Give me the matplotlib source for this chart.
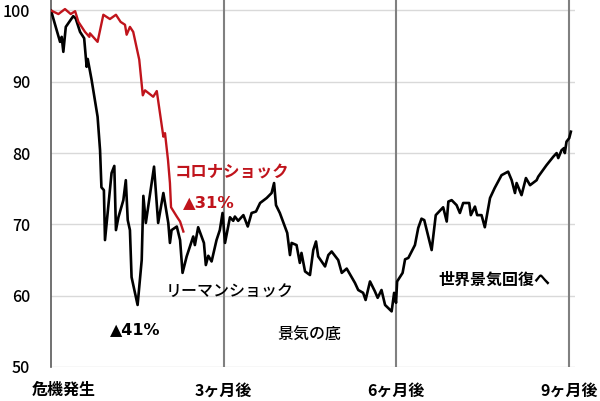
import matplotlib
matplotlib.use("Agg")
import matplotlib.pyplot as plt
import matplotlib.transforms as mtransforms

plt.rcParams['font.family'] = ['Noto Sans CJK JP', 'DejaVu Sans']

# trading days since the crisis started (3 months ~ 63 days)
lehman_days = [0, 3.3, 3.9, 4.5, 5.4, 8.1, 9.0, 10.6, 12.1, 13.0, 13.4, 14.8, 17.0, 17.9,
               18.4, 19.3, 19.7, 22.1, 23.1, 23.7, 24.6, 26.4, 27.3, 28.0, 28.8, 29.4,
               31.6, 33.1, 33.7, 34.6, 37.6, 39.1, 41.0, 42.8, 43.4, 44.0, 45.9, 47.1,
               48.0, 49.5, 51.9, 52.5, 53.7, 55.8, 56.5, 57.4, 58.6, 60.4, 61.6, 62.6,
               63.5, 65.3, 66.5, 67.1, 68.3, 70.2, 71.8, 73.2, 74.8, 76.3, 78.7, 80.5,
               81.4, 82.1, 83.5, 86.2, 87.2, 87.8, 89.6, 90.8, 91.4, 92.7, 94.5, 95.7,
               96.7, 97.5, 100.0, 101.2, 102.4, 104.8, 106.1, 107.9, 110.9, 112.1, 113.9,
               114.8, 116.4, 118.2, 119.2, 120.6, 121.9, 124.3, 125.2, 125.9, 126.3,
               128.3, 129.2, 130.4, 132.8, 134.0, 135.2, 136.2, 138.9, 140.4, 143.1,
               144.4, 145.0, 146.2, 148.0, 149.2, 150.4, 152.6, 153.2, 154.7, 155.5,
               157.1, 158.3, 160.2, 161.9, 164.4, 166.8, 168.1, 169.3, 169.9, 171.7,
               173.3, 174.8, 177.2, 177.8, 180.8, 183.3, 184.5, 185.1, 186.3, 187.2,
               187.5, 188.1, 189.1, 189.7]
lehman_vals = [100, 95.6, 96.3, 94.2, 97.7, 99.2, 98.9, 97.0, 96.1, 92.1, 93.2, 90.3, 85.1,
               80.4, 75.2, 74.8, 67.8, 77.2, 78.2, 69.2, 71.0, 73.4, 76.2, 70.6, 69.2,
               62.6, 58.7, 65.0, 74.0, 70.2, 78.1, 70.2, 74.4, 70.2, 67.4, 69.2, 69.7,
               67.8, 63.2, 65.5, 68.3, 67.1, 69.6, 67.4, 64.3, 65.6, 64.8, 67.8, 69.2,
               71.6, 67.4, 71.0, 70.5, 71.1, 70.5, 71.3, 69.7, 71.6, 71.8, 73.0, 73.7,
               74.4, 75.8, 72.7, 71.6, 68.8, 65.7, 67.4, 67.1, 64.6, 66.0, 63.4, 62.9,
               66.4, 67.6, 65.5, 64.1, 65.7, 66.2, 65.0, 63.2, 63.8, 61.8, 60.8, 60.4,
               59.4, 62.0, 60.6, 59.7, 60.8, 58.7, 57.8, 60.4, 59.0, 62.0, 63.2, 65.1,
               65.3, 67.1, 69.5, 70.8, 70.6, 66.4, 71.3, 72.4, 70.4, 73.2, 73.4, 72.7,
               71.6, 73.0, 73.0, 71.3, 72.5, 71.3, 71.3, 69.6, 73.7, 75.1, 76.9, 77.4,
               76.2, 74.4, 75.8, 74.1, 76.5, 75.5, 76.2, 76.7, 78.3, 79.5, 80.0, 79.3,
               80.4, 80.7, 80.0, 81.6, 82.1, 83.0]

corona_days = [0, 2.7, 5.1, 7.2, 8.8, 10.0, 12.4, 14.0, 14.2, 17.0, 19.1, 21.5, 23.7, 25.4,
               27.0, 27.6, 28.8, 30.0, 32.2, 33.5, 34.3, 37.3, 38.6, 41.0, 41.6, 42.7,
               43.4, 43.8, 45.9, 47.1, 48.3]
corona_vals = [100, 99.5, 100.2, 99.5, 99.9, 98.4, 97.0, 96.3, 96.8, 95.6, 99.4, 98.8, 99.4,
               98.4, 98.0, 96.6, 97.7, 97.0, 93.1, 88.1, 88.8, 87.9, 88.7, 82.3, 82.8,
               79.0, 75.8, 72.4, 71.1, 70.4, 69.0]

x_ticks = [0, 63, 126, 189]
x_labels = ['危機発生', '3ヶ月後', '6ヶ月後', '9ヶ月後']
y_ticks = [50, 60, 70, 80, 90, 100]

red = '#C0141C'

fig = plt.figure(figsize=(6, 4.01), dpi=100)
ax = fig.add_axes([0.085, 0.0848, 0.8733, 0.9152])

for y in y_ticks:
    ax.axhline(y, color='#d9d9d9', lw=1, zorder=0)
for x in x_ticks[1:]:
    ax.axvline(x, color='#808080', lw=1.5, zorder=1)

ax.plot(lehman_days, lehman_vals, color='black', lw=1.9, zorder=3)
ax.plot(corona_days, corona_vals, color=red, lw=1.7, zorder=4)

ax.set_xlim(0, 191.2)
ax.set_ylim(50, 101.47)
for s in ['top', 'right', 'bottom']:
    ax.spines[s].set_visible(False)
ax.spines['left'].set_color('#595959')
ax.spines['left'].set_linewidth(1.2)

ax.set_yticks(y_ticks)
ax.set_yticklabels([str(v) for v in y_ticks], fontsize=11.5, fontweight='medium')
ax.tick_params(axis='y', length=0, pad=15)
ax.set_xticks(x_ticks)
ax.set_xticklabels(x_labels, fontsize=11.5, fontweight='bold')
ax.tick_params(axis='x', length=0, pad=11)
first = ax.get_xticklabels()[0]
first.set_horizontalalignment('left')
first.set_transform(first.get_transform() +
                    mtransforms.ScaledTranslation(-19 / 100, 0, fig.dpi_scale_trans))

ax.text(45.2, 77.3, 'コロナショック', color=red, fontsize=11.8, fontweight='bold',
        ha='left', va='center')
ax.text(48.2, 73.0, '▲31%', color=red, fontsize=11.8, fontweight='bold',
        ha='left', va='center', family=['DejaVu Sans'])
ax.text(42.0, 60.5, 'リーマンショック', color='black', fontsize=11.5, fontweight='medium',
        ha='left', va='center')
ax.text(21.5, 55.3, '▲41%', color='black', fontsize=11.5, fontweight='bold',
        ha='left', va='center', family=['DejaVu Sans'])
ax.text(82.5, 54.5, '景気の底', color='black', fontsize=11.5, fontweight='medium',
        ha='left', va='center')
ax.text(141.2, 62.2, '世界景気回復へ', color='black', fontsize=11.5, fontweight='bold',
        ha='left', va='center')

fig.savefig('out.png', dpi=100)
